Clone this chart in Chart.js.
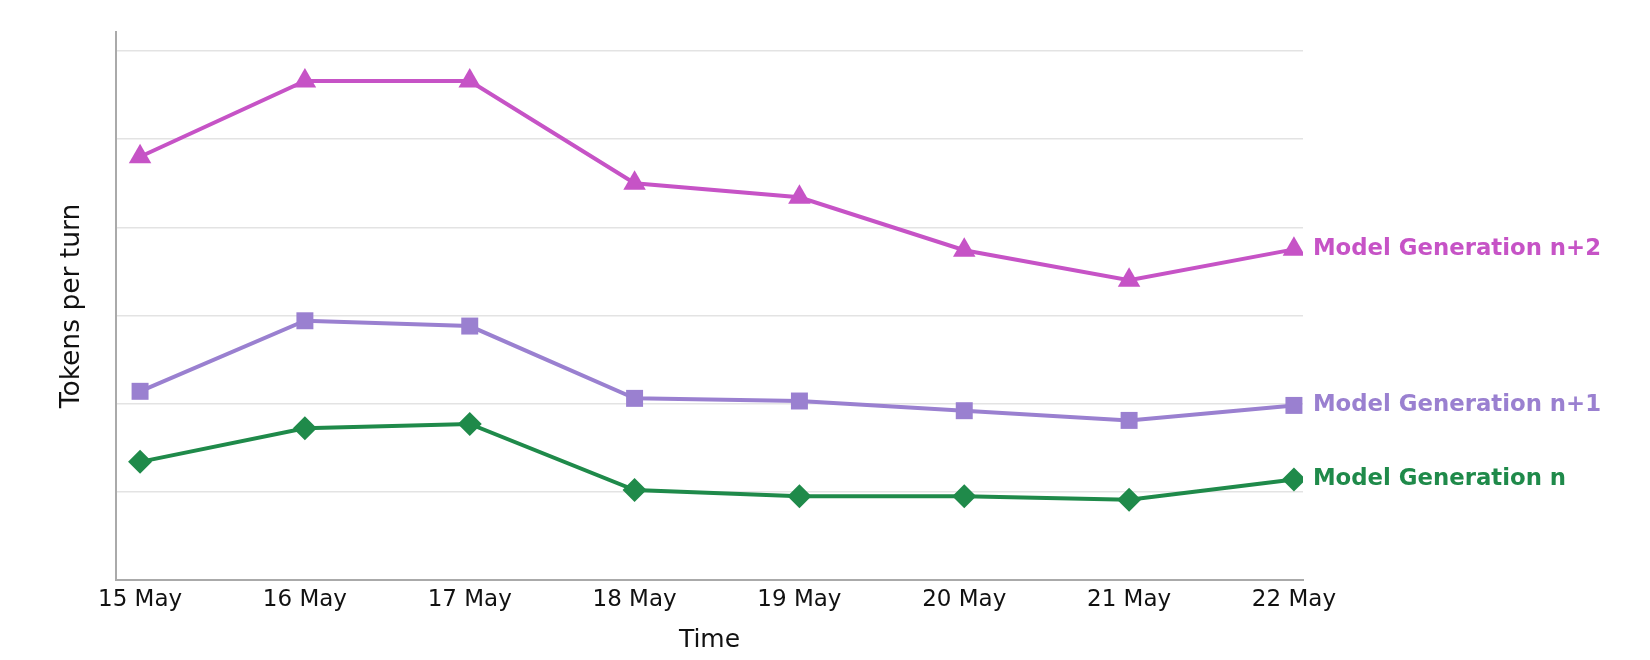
<!DOCTYPE html>
<html>
<head>
<meta charset="utf-8">
<script src="https://cdn.jsdelivr.net/npm/chart.js@4.4.0/dist/chart.umd.min.js"></script>
<style>
    html, body { margin: 0; padding: 0; background: #ffffff; }
    #wrap { width: 1650px; height: 660px; }
</style>
</head>
<body>
<div id="wrap"><canvas id="tokensChart" width="1650" height="660"></canvas></div>
<script>
const days = ["15 May", "16 May", "17 May", "18 May", "19 May", "20 May", "21 May", "22 May"];

const genN2 = [4.80, 5.66, 5.66, 4.50, 4.34, 3.74, 3.40, 3.75];
const genN1 = [2.14, 2.94, 2.88, 2.06, 2.03, 1.92, 1.81, 1.98];
const genN  = [1.34, 1.72, 1.77, 1.02, 0.95, 0.95, 0.91, 1.14];

const seriesNames = ["Model Generation n+2", "Model Generation n+1", "Model Generation n"];
const seriesColors = ["#c653c6", "#9a80d0", "#1f8a4a"];

const FONT = "'DejaVu Sans', sans-serif";

function toPoints(values) {
    return values.map((v, i) => ({ x: i, y: v }));
}

// names written next to the last point of each line
const endLabels = {
    id: "endLabels",
    afterDatasetsDraw(chart) {
        const ctx = chart.ctx;
        ctx.save();
        ctx.font = "bold 22.8px " + FONT;
        ctx.textBaseline = "middle";
        ctx.textAlign = "left";
        chart.data.datasets.forEach((ds, i) => {
            const meta = chart.getDatasetMeta(i);
            const last = meta.data[meta.data.length - 1];
            ctx.fillStyle = ds.borderColor;
            ctx.fillText(ds.label, last.x + 19, last.y);
        });
        ctx.restore();
    }
};

const ctx = document.getElementById("tokensChart").getContext("2d");

new Chart(ctx, {
    type: "line",
    data: {
        datasets: [
            {
                label: seriesNames[0],
                data: toPoints(genN2),
                borderColor: seriesColors[0],
                backgroundColor: seriesColors[0],
                borderWidth: 4,
                pointStyle: "triangle",
                pointRadius: 13,
                pointBorderWidth: 0
            },
            {
                label: seriesNames[1],
                data: toPoints(genN1),
                borderColor: seriesColors[1],
                backgroundColor: seriesColors[1],
                borderWidth: 4,
                pointStyle: "rect",
                pointRadius: 12,
                pointBorderWidth: 0
            },
            {
                label: seriesNames[2],
                data: toPoints(genN),
                borderColor: seriesColors[2],
                backgroundColor: seriesColors[2],
                borderWidth: 4,
                pointStyle: "rectRot",
                pointRadius: 12,
                pointBorderWidth: 0
            }
        ]
    },
    options: {
        responsive: false,
        animation: false,
        layout: {
            padding: { left: 52, right: 347, top: 32, bottom: 1 }
        },
        plugins: {
            legend: { display: false },
            tooltip: { enabled: false }
        },
        scales: {
            x: {
                type: "linear",
                min: -0.146,
                max: 7.055,
                grid: { display: false, drawTicks: false },
                border: { display: true, color: "#aaaaaa", width: 2 },
                ticks: {
                    stepSize: 1,
                    includeBounds: false,
                    autoSkip: false,
                    maxRotation: 0,
                    padding: 6,
                    color: "#111111",
                    font: { family: FONT, size: 23 },
                    callback: (v) => days[v] !== undefined ? days[v] : ""
                },
                title: {
                    display: true,
                    text: "Time",
                    color: "#111111",
                    font: { family: FONT, size: 25 },
                    padding: { top: 4, bottom: 4 }
                },
                afterFit: (axis) => { axis.height = 79; }
            },
            y: {
                min: 0,
                max: 6.215,
                grid: { color: "#e3e3e3", lineWidth: 1.5, drawTicks: false },
                border: { display: true, color: "#aaaaaa", width: 2 },
                ticks: { display: false, stepSize: 1, includeBounds: false },
                title: {
                    display: true,
                    text: "Tokens per turn",
                    color: "#111111",
                    font: { family: FONT, size: 26.5 },
                    padding: { top: 4, bottom: 4 }
                },
                afterFit: (axis) => { axis.width = 64; }
            }
        }
    },
    plugins: [endLabels]
});
</script>
</body>
</html>
